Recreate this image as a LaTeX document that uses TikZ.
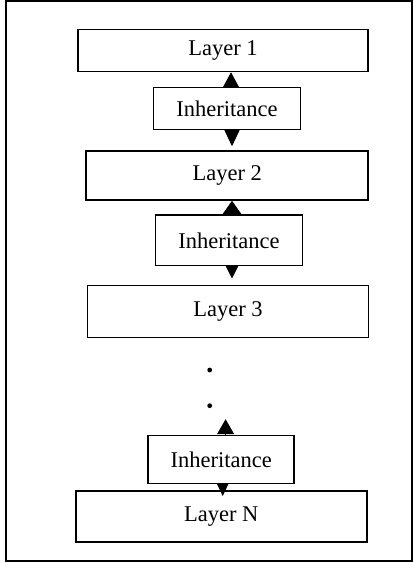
\documentclass[tikz,border=0pt]{standalone}
\usepackage{fontspec}
\setmainfont{Liberation Serif}
\usepackage{tikz}
\usetikzlibrary{arrows.meta}

\tikzset{
    layerbox/.style={draw, line width=1.6pt, minimum width=#1, inner sep=0pt,
        font=\fontsize{22.5}{26}\selectfont},
    arr/.style args={#1/#2}{line width=1pt, -{Triangle[width=#1,length=#2]}},
}

\begin{document}
\begin{tikzpicture}[x=1pt,y=-1pt]
    \useasboundingbox (0,0) rectangle (413,563);
    % 外框
    \draw[line width=1.6pt] (6,1) rectangle (412,561);

    % 各层与继承框
    \node[layerbox=290pt, minimum height=42pt] (layer1) at (223,50.5) {Layer 1};
    \node[layerbox=147pt, minimum height=42pt] (inh1) at (227,108.5) {Inheritance};
    \node[layerbox=282pt, minimum height=49pt] (layer2) at (227.2,175.5) {Layer 2};
    \node[layerbox=147pt, minimum height=50.5pt] (inh2) at (229,240.3) {Inheritance};
    \node[layerbox=281pt, minimum height=52pt] (layer3) at (228,311.3) {Layer 3};
    \node[layerbox=146pt, minimum height=48pt] (inh3) at (221.2,459.3) {Inheritance};
    \node[layerbox=291pt, minimum height=51pt] (layerN) at (221.3,516.7) {Layer N};

    \fill (209.7,370) circle (2.4pt);
    \fill (209.7,405.7) circle (2.4pt);

    % 箭头
    \draw[arr=16pt/15pt] ([xshift=4pt]inh1.north) -- ([xshift=4pt]inh1.north |- layer1.south);
    \draw[arr=15pt/16pt, shorten >=4pt] ([xshift=5pt]inh1.south) -- ([xshift=5pt]inh1.south |- layer2.north);
    \draw[arr=21pt/15pt] ([xshift=3pt]inh2.north) -- ([xshift=3pt]inh2.north |- layer2.south);
    \draw[arr=13pt/13pt, shorten >=6pt] ([xshift=3pt]inh2.south) -- ([xshift=3pt]inh2.south |- layer3.north);
    \draw[arr=17pt/15pt] ([xshift=4.4pt]inh3.north) -- ++(0,-15.3);
    \draw[arr=11pt/12pt] ([xshift=1.5pt]inh3.south) -- ++(0,12);
\end{tikzpicture}
\end{document}
